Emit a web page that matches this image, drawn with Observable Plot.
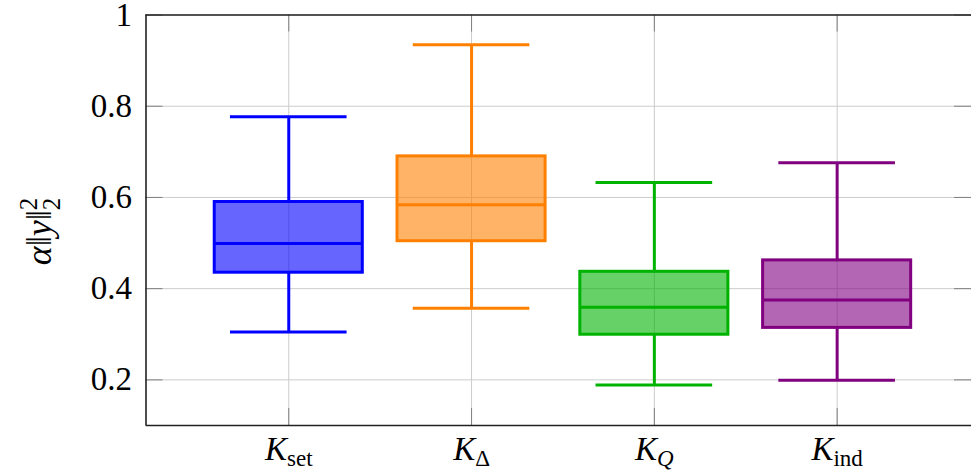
<!DOCTYPE html>
<html>
<head>
<meta charset="utf-8">
<script src="https://cdn.jsdelivr.net/npm/d3@7"></script>
<script src="https://cdn.jsdelivr.net/npm/@observablehq/plot@0.6"></script>
<style>
  html, body { margin: 0; padding: 0; background: white; }
</style>
</head>
<body>
<div id="chart"></div>
<script>
// ---- data ----
const categories = ["K_set", "K_Δ", "K_Q", "K_ind"];
const labelBase = ["K", "K", "K", "K"];
const labelSub = ["set", "Δ", "Q", "ind"];
const labelSubItalic = [false, false, true, false];
const positions = [1, 2, 3, 4];
const lowerWhisker = [0.305, 0.357, 0.189, 0.199];
const q1 = [0.435, 0.504, 0.299, 0.314];
const median = [0.499, 0.584, 0.359, 0.375];
const q3 = [0.590, 0.690, 0.437, 0.462];
const upperWhisker = [0.777, 0.935, 0.633, 0.676];
const colors = ["#0000ff", "#ff8000", "#00b300", "#800080"];
const yTicks = [0.2, 0.4, 0.6, 0.8, 1];
const yLabel = "α‖y‖²₂";
const xDomain = [0.219, 4.735];
const yDomain = [0.1, 1];

const rows = categories.map((c, i) => ({
  cat: c, pos: positions[i], lo: lowerWhisker[i], q1: q1[i], med: median[i],
  q3: q3[i], hi: upperWhisker[i], color: colors[i]
}));

const FONT = "Liberation Serif";
const W = 971, H = 472;
const mT = 14.5, mB = 47, mL = 145.5, mR = 0;
const plotH = H - mT - mB, plotW = W - mL - mR;
const tickPx = 17;
const yTickLen = tickPx * (yDomain[1] - yDomain[0]) / plotH;
const xTickLen = tickPx * (xDomain[1] - xDomain[0]) / plotW;
const boxHalf = 0.405, capHalf = 0.319;
const gridColor = "#cccccc", tickColor = "#808080";

const chart = Plot.plot({
  width: W, height: H,
  marginTop: mT, marginBottom: mB, marginLeft: mL, marginRight: mR,
  style: { fontFamily: FONT, fontSize: "33px", background: "white", color: "black" },
  x: { type: "linear", domain: xDomain, label: null },
  y: { domain: yDomain, label: null },
  marks: [
    // grid
    Plot.ruleX(positions, { x: d => d, y1: yDomain[0], y2: yDomain[1], stroke: gridColor, strokeWidth: 1 }),
    Plot.ruleY(yTicks, { y: d => d, x1: xDomain[0], x2: xDomain[1], stroke: gridColor, strokeWidth: 1 }),
    // inward ticks
    Plot.ruleX(positions, { x: d => d, y1: yDomain[0], y2: yDomain[0] + yTickLen, stroke: tickColor, strokeWidth: 1 }),
    Plot.ruleX(positions, { x: d => d, y1: yDomain[1] - yTickLen, y2: yDomain[1], stroke: tickColor, strokeWidth: 1 }),
    Plot.ruleY(yTicks, { y: d => d, x1: xDomain[0], x2: xDomain[0] + xTickLen, stroke: tickColor, strokeWidth: 1 }),
    Plot.ruleY(yTicks, { y: d => d, x1: xDomain[1] - xTickLen, x2: xDomain[1], stroke: tickColor, strokeWidth: 1 }),
    // whiskers
    Plot.ruleX(rows, { x: "pos", y1: "q3", y2: "hi", stroke: "color", strokeWidth: 3 }),
    Plot.ruleX(rows, { x: "pos", y1: "lo", y2: "q1", stroke: "color", strokeWidth: 3 }),
    Plot.ruleY(rows, { y: "hi", x1: d => d.pos - capHalf, x2: d => d.pos + capHalf, stroke: "color", strokeWidth: 3 }),
    Plot.ruleY(rows, { y: "lo", x1: d => d.pos - capHalf, x2: d => d.pos + capHalf, stroke: "color", strokeWidth: 3 }),
    // boxes
    Plot.rect(rows, { x1: d => d.pos - boxHalf, x2: d => d.pos + boxHalf, y1: "q1", y2: "q3", fill: "color", fillOpacity: 0.6, stroke: "color", strokeWidth: 3 }),
    Plot.ruleY(rows, { y: "med", x1: d => d.pos - boxHalf, x2: d => d.pos + boxHalf, stroke: "color", strokeWidth: 3 }),
    // frame (left, top, bottom)
    Plot.ruleY([yDomain[0], yDomain[1]], { y: d => d, x1: xDomain[0], x2: xDomain[1], stroke: "#222", strokeWidth: 1.6 }),
    Plot.ruleX([xDomain[0]], { x: d => d, y1: yDomain[0], y2: yDomain[1], stroke: "#222", strokeWidth: 1.6 }),
    // axes
    Plot.axisY(yTicks, { tickSize: 0, tickPadding: 14, fontSize: 33, fontFamily: FONT, label: null, tickFormat: d => d === 1 ? "1" : d.toFixed(1) }),
    Plot.axisX(positions, { tickSize: 0, tickPadding: 11, fontSize: 33, fontFamily: FONT, label: null, tickFormat: (d, i) => categories[i] }),
    // y label
    Plot.text([yLabel], { frameAnchor: "left", rotate: -90, dx: -107, dy: 45, textAnchor: "start", fontSize: 36, fontFamily: FONT })
  ]
});

document.getElementById("chart").appendChild(chart);

// rich text for tick labels (subscripts)
d3.select(chart).selectAll('g[aria-label="x-axis tick label"] text').each(function (d, i) {
  const t = d3.select(this);
  t.text(null);
  t.append("tspan").attr("font-style", "italic").text(labelBase[i]);
  t.append("tspan").attr("font-size", 23).attr("dy", 6)
    .attr("font-style", labelSubItalic[i] ? "italic" : null).text(labelSub[i]);
});

// y label: α‖y‖ with stacked sup/sub 2
d3.select(chart).selectAll('g[aria-label="text"] text').each(function () {
  const t = d3.select(this);
  t.text(null);
  t.append("tspan").attr("font-style", "italic").text("α");
  t.append("tspan").text("‖");
  t.append("tspan").attr("font-style", "italic").text("y");
  t.append("tspan").text("‖");
  t.append("tspan").attr("font-size", 25).attr("dy", -14).text("2");
  t.append("tspan").attr("font-size", 25).attr("dx", -12.5).attr("dy", 23).text("2");
});
</script>
</body>
</html>
